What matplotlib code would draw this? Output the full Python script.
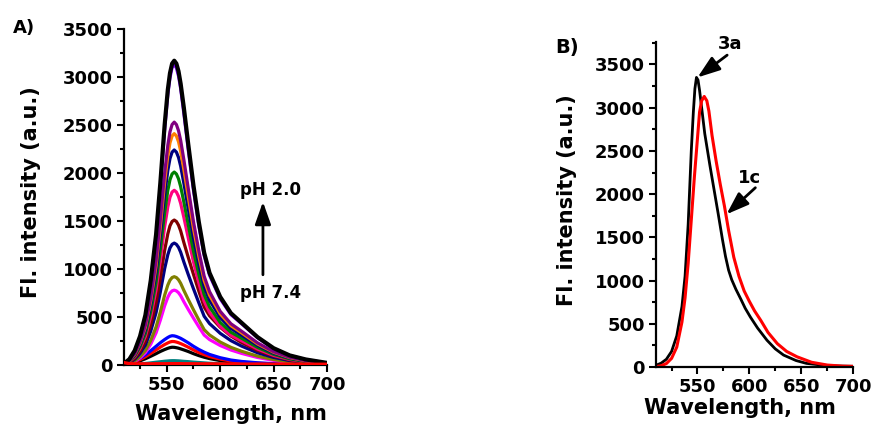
import matplotlib
matplotlib.use("Agg")
import matplotlib.pyplot as plt
from matplotlib.ticker import MultipleLocator

plt.rcParams['font.family'] = ['DejaVu Sans']
plt.rcParams['font.weight'] = 'bold'
plt.rcParams['axes.labelweight'] = 'bold'
plt.rcParams['font.size'] = 13

########################################
# DATA: panel A, emission spectra at different pH
########################################
wavelength = [510, 515, 520, 525, 530, 535, 540, 544, 548, 551, 553, 555, 557, 559, 561,
              563, 566, 570, 575, 580, 585, 590, 600, 610, 620, 635, 650, 665, 680, 700]

flat_red = [25, 14, 12, 12, 12, 12, 13, 13, 13, 14, 14, 14, 14, 14, 14, 14, 13, 13, 13, 12, 12, 12, 11, 11, 10, 10, 9, 9, 8, 8]
teal = [2, 4, 7, 11, 16, 22, 29, 34, 39, 42, 44, 45, 45, 44, 43, 41, 38, 35, 30, 26, 22, 18, 13, 9, 7, 5, 3, 2, 1, 1]
black_low = [6, 13, 26, 43, 65, 91, 118, 141, 161, 174, 181, 185, 184, 180, 175, 168, 157, 141, 118, 98, 81, 67, 46, 31, 22, 14, 9, 6, 4, 2]
red_low = [7, 17, 34, 56, 86, 120, 157, 186, 213, 230, 240, 245, 244, 239, 232, 223, 208, 186, 157, 130, 108, 88, 61, 42, 29, 18, 12, 7, 5, 2]
blue_low = [9, 21, 43, 70, 107, 149, 195, 232, 265, 287, 299, 305, 303, 297, 288, 278, 259, 232, 195, 162, 134, 110, 76, 52, 37, 23, 14, 9, 6, 3]
magenta = [4, 15, 37, 74, 128, 217, 335, 468, 616, 706, 749, 772, 780, 772, 753, 722, 659, 581, 488, 398, 312, 265, 203, 156, 121, 78, 48, 28, 16, 6]
olive = [5, 17, 43, 87, 151, 256, 396, 552, 727, 833, 883, 911, 920, 911, 888, 851, 777, 685, 575, 469, 368, 313, 239, 184, 143, 92, 57, 33, 18, 7]
navy_1270 = [6, 24, 60, 121, 208, 353, 546, 762, 1003, 1149, 1219, 1257, 1270, 1257, 1226, 1175, 1073, 946, 794, 648, 508, 432, 330, 254, 197, 127, 79, 46, 25, 10]
wine = [8, 29, 71, 143, 248, 420, 649, 906, 1193, 1367, 1450, 1495, 1510, 1495, 1457, 1397, 1276, 1125, 944, 770, 604, 513, 393, 302, 234, 151, 94, 54, 30, 12]
pink = [9, 35, 86, 173, 298, 506, 783, 1092, 1438, 1647, 1747, 1802, 1820, 1802, 1756, 1684, 1538, 1329, 1074, 855, 664, 548, 402, 309, 253, 166, 100, 58, 33, 13]
green = [10, 38, 94, 191, 330, 559, 864, 1206, 1588, 1819, 1930, 1990, 2010, 1990, 1940, 1859, 1698, 1467, 1186, 945, 734, 606, 444, 342, 279, 183, 111, 64, 36, 14]
navy_2240 = [11, 43, 105, 213, 367, 623, 963, 1344, 1770, 2027, 2150, 2218, 2240, 2218, 2162, 2072, 1893, 1635, 1322, 1053, 818, 676, 495, 381, 311, 204, 123, 72, 40, 16]
orange = [12, 46, 113, 229, 395, 670, 1036, 1446, 1904, 2181, 2314, 2386, 2410, 2386, 2326, 2229, 2036, 1759, 1422, 1133, 880, 728, 533, 410, 335, 219, 133, 77, 43, 17]
purple = [13, 48, 119, 240, 415, 703, 1088, 1518, 1999, 2290, 2429, 2505, 2530, 2505, 2441, 2340, 2138, 1847, 1493, 1189, 925, 765, 559, 430, 352, 230, 139, 81, 46, 18]
violet = [14, 55, 140, 285, 500, 855, 1320, 1850, 2450, 2820, 2990, 3100, 3130, 3095, 3010, 2880, 2620, 2250, 1820, 1450, 1140, 935, 690, 525, 430, 283, 170, 98, 56, 21]
black_top = [15, 60, 150, 300, 520, 880, 1360, 1900, 2500, 2870, 3040, 3140, 3170, 3140, 3060, 2930, 2680, 2310, 1870, 1490, 1170, 960, 710, 540, 440, 290, 175, 100, 58, 22]

curves_A = [teal, black_low, red_low, blue_low, magenta, olive, navy_1270, wine,
            pink, green, navy_2240, orange, purple, violet, black_top]
colors_A = ['#008080', '#000000', '#FF0000', '#0000FF', '#FF00FF', '#808000', '#000080', '#800000',
            '#FF0080', '#008000', '#000080', '#FF8000', '#800080', '#8000FF', '#000000']

########################################
# DATA: panel B, 3a vs 1c
########################################
wl_3a = [510, 515, 520, 525, 530, 535, 538, 541, 544, 546, 547.5, 549, 550.5, 552, 554, 557, 562,
         566, 570, 574, 577, 580, 583, 587, 592, 596, 601, 608, 617, 625, 633, 645, 655, 670, 685, 700]
fl_3a = [20, 45, 90, 180, 360, 700, 1050, 1650, 2500, 2950, 3220, 3350, 3320, 3200, 3000, 2700, 2330,
         2050, 1770, 1480, 1280, 1120, 1010, 900, 780, 680, 578, 450, 310, 210, 138, 75, 42, 22, 12, 8]

wl_1c = [510, 515, 520, 525, 530, 535, 538, 541, 544, 547, 550, 552, 554, 556.5, 559, 561, 564, 568,
         572, 576, 580, 585, 590, 595, 600, 605, 611, 618, 627, 636, 646, 660, 675, 690, 700]
fl_1c = [5, 15, 40, 100, 230, 520, 800, 1200, 1700, 2200, 2650, 2950, 3080, 3130, 3080, 2960, 2680, 2380,
         2110, 1860, 1580, 1270, 1050, 880, 760, 650, 540, 400, 270, 180, 118, 55, 23, 10, 8]

########################################
# PLOT
########################################
fig = plt.figure(figsize=(8.74, 4.28), dpi=100)
axA = fig.add_axes([0.1419, 0.1472, 0.2323, 0.785])
axB = fig.add_axes([0.7506, 0.1425, 0.2254, 0.7594])

for fl, c in zip(curves_A, colors_A):
    lw = 3.0 if fl is black_top else 2.3
    axA.plot(wavelength, fl, color=c, lw=lw)
axA.plot(wavelength, flat_red, color='#FF0000', lw=2.4, zorder=5)

axB.plot(wl_3a, fl_3a, color='black', lw=2)
axB.plot(wl_1c, fl_1c, color='#FF0000', lw=2.2)

axA.set_ylim(0, 3500)
axB.set_ylim(0, 3760)

for ax in (axA, axB):
    ax.set_xlim(510, 700)
    ax.spines['top'].set_visible(False)
    ax.spines['right'].set_visible(False)
    for s in ('left', 'bottom'):
        ax.spines[s].set_linewidth(1.6)
    ax.xaxis.set_major_locator(MultipleLocator(50))
    ax.xaxis.set_minor_locator(MultipleLocator(25))
    ax.yaxis.set_major_locator(MultipleLocator(500))
    ax.yaxis.set_minor_locator(MultipleLocator(250))
    ax.set_xticks([550, 600, 650, 700])
    ax.tick_params(which='major', direction='out', length=5, width=1.5, pad=3)
    ax.tick_params(which='minor', direction='out', length=3, width=1.5)
    ax.set_xlabel('Wavelength, nm', fontsize=15)
    ax.set_ylabel('Fl. intensity (a.u.)', fontsize=15)

axA.xaxis.set_label_coords(0.527, -0.115)
axA.yaxis.set_label_coords(-0.41, 0.515)
axB.xaxis.set_label_coords(0.426, -0.095)
axB.yaxis.set_label_coords(-0.40, 0.514)

# pH arrow
arrow_style = '-|>,head_length=0.85,head_width=0.3'
arrow_kw = dict(arrowstyle=arrow_style, color='black', lw=2,
                shrinkA=0, shrinkB=0, mutation_scale=16)
axA.annotate('', xy=(640, 1700), xytext=(640, 940), arrowprops=arrow_kw)
axA.text(647, 1771, 'pH 2.0', ha='center', va='baseline', fontsize=12)
axA.text(647.5, 698, 'pH 7.4', ha='center', va='baseline', fontsize=12)

# compound labels
axB.annotate('', xy=(550, 3350), xytext=(578.6, 3608), arrowprops=arrow_kw)
axB.text(581, 3683, '3a', ha='center', va='baseline', fontsize=13, clip_on=False)
axB.annotate('', xy=(578, 1767), xytext=(605.8, 2074), arrowprops=arrow_kw)
axB.text(600, 2131, '1c', ha='center', va='baseline', fontsize=13)

fig.text(13 / 874, 1 - 33 / 428, 'A)', ha='left', va='baseline', fontsize=13)
fig.text(555 / 874, 1 - 53 / 428, 'B)', ha='left', va='baseline', fontsize=14)

fig.savefig('out.png', dpi=100)
